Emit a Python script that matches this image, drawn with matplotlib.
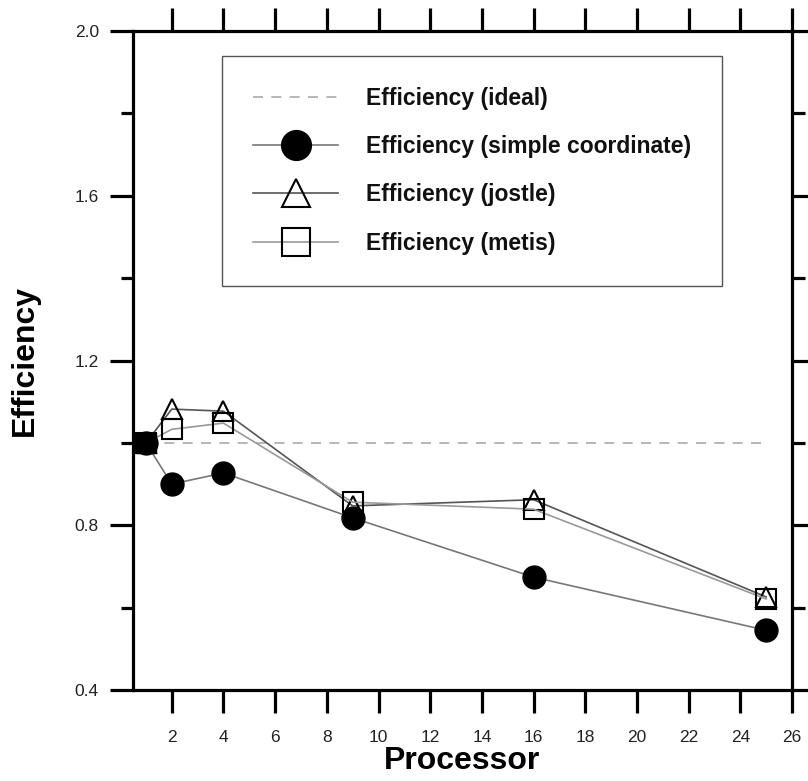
import matplotlib.pyplot as plt
from matplotlib.ticker import MultipleLocator

plt.rcParams['font.family'] = ['Liberation Sans', 'DejaVu Sans']

# data
procs = [1, 2, 4, 9, 16, 25]
ideal = [1.0, 1.0, 1.0, 1.0, 1.0, 1.0]
simple_coord = [1.0, 0.90, 0.927, 0.818, 0.674, 0.545]
jostle = [1.0, 1.082, 1.077, 0.847, 0.862, 0.626]
metis = [1.0, 1.033, 1.048, 0.856, 0.839, 0.621]

labels = ["Efficiency (ideal)", "Efficiency (simple coordinate)",
          "Efficiency (jostle)", "Efficiency (metis)"]

fig = plt.figure(figsize=(8.08, 7.81), dpi=100)
ax = fig.add_axes([0.1646, 0.1165, 0.8156, 0.8438])

ax.plot(procs, ideal, linestyle=(0, (6, 5)), color="#aaaaaa", lw=1.2,
        label=labels[0])
ax.plot(procs, simple_coord, color="#777777", lw=1.2, marker="o", ms=16.5,
        mfc="black", mec="black", label=labels[1])
ax.plot(procs, jostle, color="#555555", lw=1.2, marker="^", ms=15,
        mfc="none", mec="black", mew=1.5, label=labels[2])
ax.plot(procs, metis, color="#999999", lw=1.2, marker="s", ms=15,
        mfc="none", mec="black", mew=1.5, label=labels[3])
# first metis point drawn filled in the original
ax.plot(procs[:1], metis[:1], linestyle="none", marker="s", ms=15,
        mfc="black", mec="black")

ax.set_xlim(0.5, 26)
ax.set_ylim(0.4, 2.0)
ax.set_xticks(range(2, 27, 2))
ax.yaxis.set_major_locator(MultipleLocator(0.4))
ax.yaxis.set_minor_locator(MultipleLocator(0.2))

for s in ax.spines.values():
    s.set_linewidth(2.3)
ax.tick_params(which="major", direction="out", length=16.5, width=2.3,
               top=True, right=True, labelsize=12.5, labelcolor="#222222")
ax.tick_params(axis="y", which="major", pad=8)
ax.tick_params(axis="x", which="major", pad=12)
ax.tick_params(which="minor", direction="out", length=9, width=2.3,
               left=True, right=True)
ax.yaxis.set_major_formatter(plt.FuncFormatter(lambda v, p: f"{v:.1f}"))

ax.set_xlabel("Processor", fontsize=23, fontweight="bold", labelpad=1)
ax.set_ylabel("Efficiency", fontsize=23, fontweight="bold", labelpad=25)

leg = ax.legend(loc="upper left", bbox_to_anchor=(0.1355, 0.962),
                prop={"weight": "bold", "size": 16.5}, markerscale=1.3,
                handlelength=3.7, handletextpad=1.2, labelspacing=1.1,
                borderpad=1.35, borderaxespad=0, fancybox=False,
                edgecolor="#555555", framealpha=1)
leg.get_frame().set_linewidth(1.0)
for t in leg.get_texts():
    t.set_color("#111111")

fig.savefig("out.png", dpi=100)
